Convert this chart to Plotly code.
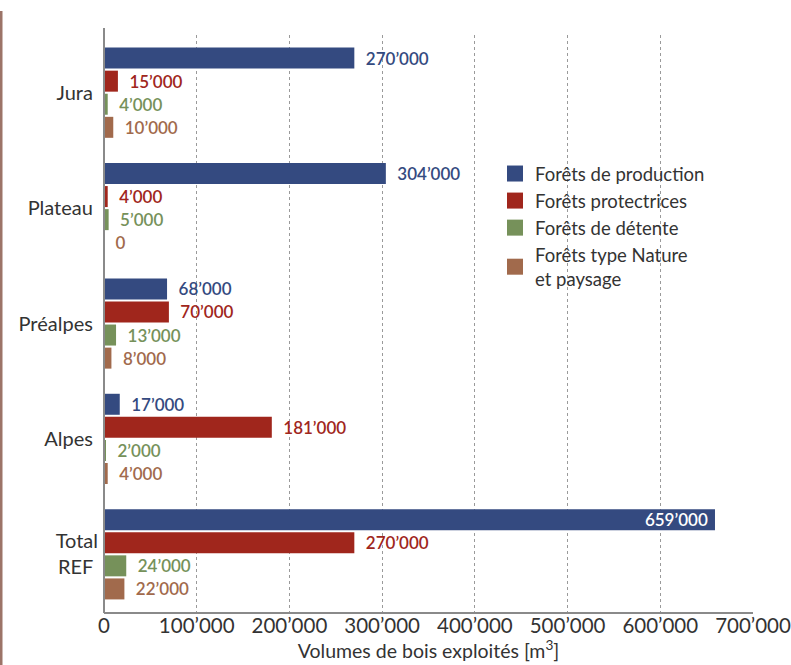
import plotly.graph_objects as go

categories = ["Jura", "Plateau", "Préalpes", "Alpes", "Total<br>REF"]
series_names = ["Forêts de production", "Forêts protectrices", "Forêts de détente",
                "Forêts type Nature<br>et paysage"]
production = [270000, 304000, 68000, 17000, 659000]
protectrices = [15000, 4000, 70000, 181000, 270000]
detente = [4000, 5000, 13000, 2000, 24000]
nature = [10000, 0, 8000, 4000, 22000]
tick_vals = [0, 100000, 200000, 300000, 400000, 500000, 600000, 700000]
tick_text = ["0", "100’000", "200’000", "300’000", "400’000", "500’000", "600’000", "700’000"]

colors = ["#344a80", "#a0261c", "#76915a", "#a16a4c"]
series = [production, protectrices, detente, nature]

W, H = 791, 665
ML, MR, MT, MB = 104, 38, 35, 53
PW, PH = W - ML - MR, H - MT - MB


def fmt(v):
    return f"{v:,}".replace(",", "’")


fig = go.Figure()
for name, vals, col in zip(series_names, series, colors):
    texts, pos, tcol = [], [], []
    for v in vals:
        if v > 600000:
            texts.append(fmt(v) + " ")
            pos.append("inside")
            tcol.append("white")
        else:
            texts.append("  " + fmt(v))
            pos.append("outside")
            tcol.append(col)
    fig.add_trace(go.Bar(
        y=categories, x=vals, name=name, orientation="h", showlegend=False,
        marker=dict(color=col, line=dict(width=0)),
        text=texts, textposition=pos, insidetextanchor="end",
        constraintext="none", textangle=0,
        textfont=dict(color=tcol, size=17, family="Lato", weight=600),
        cliponaxis=False,
    ))
    # legend entry with a larger square swatch
    fig.add_trace(go.Scatter(
        x=[None], y=[None], mode="markers", name=name,
        marker=dict(symbol="square", size=16, color=col),
        showlegend=True, hoverinfo="skip",
    ))

fig.update_layout(
    width=W, height=H,
    margin=dict(l=ML, r=MR, t=MT, b=MB, autoexpand=False),
    paper_bgcolor="white", plot_bgcolor="white",
    barmode="group", bargap=0.2, bargroupgap=0.09,
    font=dict(family="Lato", size=19, color="#333333"),
    showlegend=True,
    legend=dict(x=(495 - ML) / PW, y=(MT + PH - 155) / PH, xanchor="left", yanchor="top",
                traceorder="normal", font=dict(size=18.5, color="#333333"),
                itemwidth=30, tracegroupgap=0, bgcolor="rgba(0,0,0,0)"),
    xaxis=dict(range=[0, 700000], tickvals=tick_vals, ticktext=tick_text,
               showgrid=True, gridcolor="#9a9a9a", griddash="dot", gridwidth=1,
               showline=True, linecolor="#8a8a8a", linewidth=2, automargin=False,
               zeroline=False, ticks="", tickfont=dict(size=20.5, color="#333333"),
               ticklabelstandoff=-6,
               title=dict(text="Volumes de bois exploités [m<sup>3</sup>]",
                          font=dict(size=19.5, color="#333333"), standoff=2)),
    yaxis=dict(autorange="reversed", showline=False, automargin=False,
               showgrid=False, ticks="", tickfont=dict(size=20, color="#333333"),
               ticksuffix=" ", ticklabelstandoff=5),
)

# y axis line extending slightly above the plot area
fig.add_shape(type="line", xref="paper", yref="paper",
              x0=0, x1=0, y0=-1 / PH, y1=(MT + PH - 28) / PH,
              line=dict(color="#8a8a8a", width=2), layer="above")

# brown strip at the left edge of the page
fig.add_shape(type="rect", xref="paper", yref="paper",
              x0=-ML / PW, x1=(-ML + 2.5) / PW, y0=-MB / PH, y1=(MT + PH - 11) / PH,
              fillcolor="#9c7468", line=dict(width=0), layer="above")

fig.write_html("out.html")
